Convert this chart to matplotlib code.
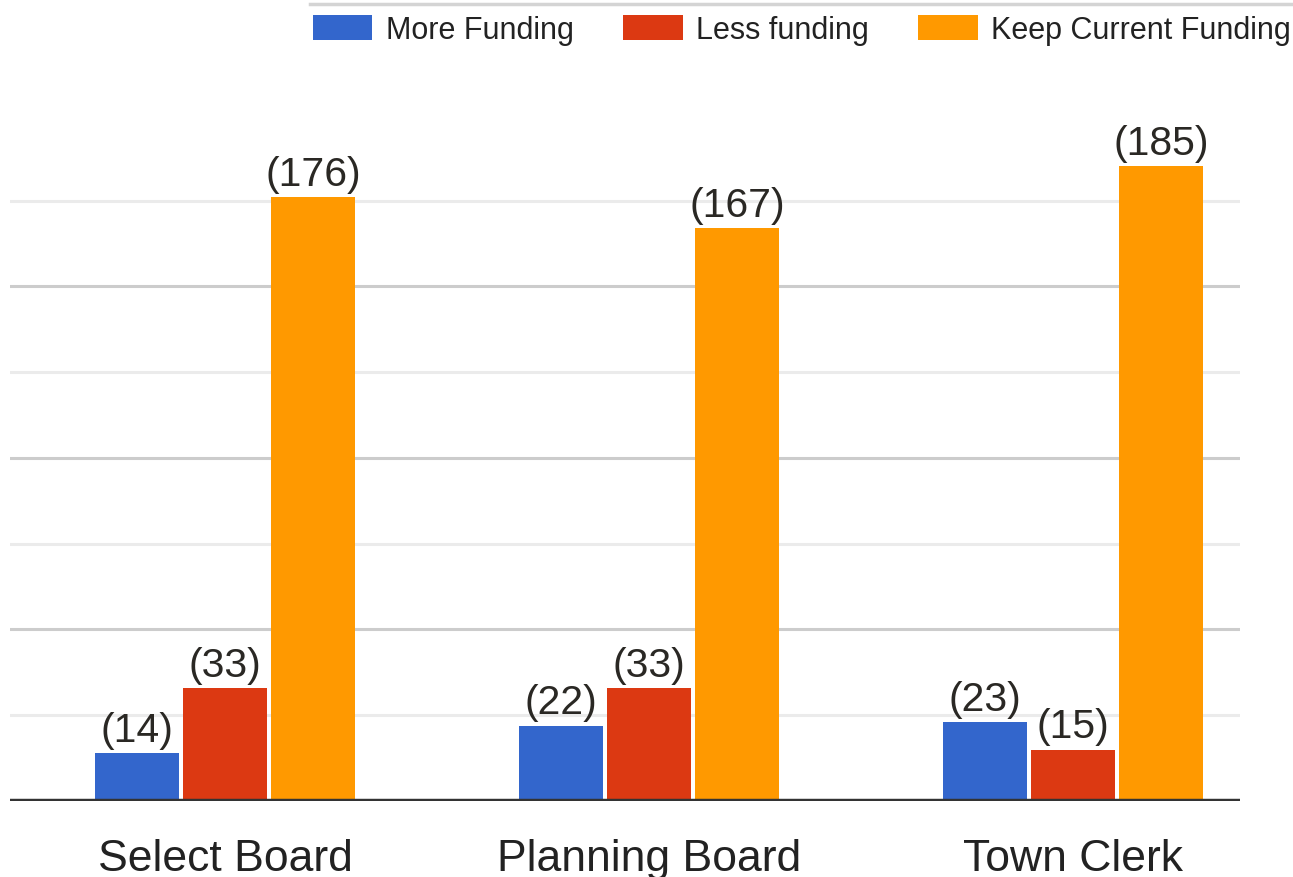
import matplotlib
matplotlib.use("Agg")
from matplotlib import pyplot as plt
from matplotlib.lines import Line2D
import numpy as np

plt.rcParams['font.family'] = ['Liberation Sans', 'DejaVu Sans']

categories = ['Select Board', 'Planning Board', 'Town Clerk']
series_names = ['More Funding', 'Less funding', 'Keep Current Funding']
more_funding = [14, 22, 23]
less_funding = [33, 33, 15]
keep_funding = [176, 167, 185]
palette = ['#3366CC', '#DC3912', '#FF9900']

W, H = 1293, 878
fig = plt.figure(figsize=(W / 100, H / 100), dpi=100)
# axes box in pixels: x 10..1240, y 110..802 (from top)
ax = fig.add_axes([10 / W, (H - 802) / H, 1230 / W, 692 / H])

x = np.arange(len(categories))
step = 0.2075
width = 0.198
for k, vals in enumerate([more_funding, less_funding, keep_funding]):
	bars = ax.bar(x + (k - 1) * step, vals, width, color=palette[k],
				  label=series_names[k], zorder=3)
	ax.bar_label(bars, labels=['(%d)' % v for v in vals], padding=3,
				 fontsize=29.5, color='#2a2824')

ax.set_xlim(-0.507, 2.394)
ax.set_ylim(0, 201.7)

# gridlines: darker every 50, lighter in between
for g in range(25, 200, 25):
	c = '#cccccc' if g % 50 == 0 else '#ebebeb'
	ax.axhline(g, color=c, lw=2.2, zorder=1)
ax.axhline(0, color='#333333', lw=3.2, zorder=4)

ax.set_yticks([])
ax.set_xticks(x)
ax.set_xticklabels(categories, fontsize=32, color='#222222')
ax.tick_params(axis='x', length=0, pad=27)
for s in ax.spines.values():
	s.set_visible(False)

ax.legend(loc='upper right', bbox_to_anchor=(1291 / W, 1 - 16 / H),
		  bbox_transform=fig.transFigure, ncol=3, frameon=False,
		  fontsize=22, handlelength=1.96, handleheight=0.88,
		  handletextpad=0.43, columnspacing=1.62, borderaxespad=0, borderpad=0)
for t in ax.get_legend().get_texts():
	t.set_color('#222222')

# thin grey rule along the top edge
fig.add_artist(Line2D([310 / W, 1.0], [1 - 5 / H, 1 - 5 / H], color='#d4d4d4',
					  lw=2.5, transform=fig.transFigure))

fig.savefig('out.png', dpi=100)
